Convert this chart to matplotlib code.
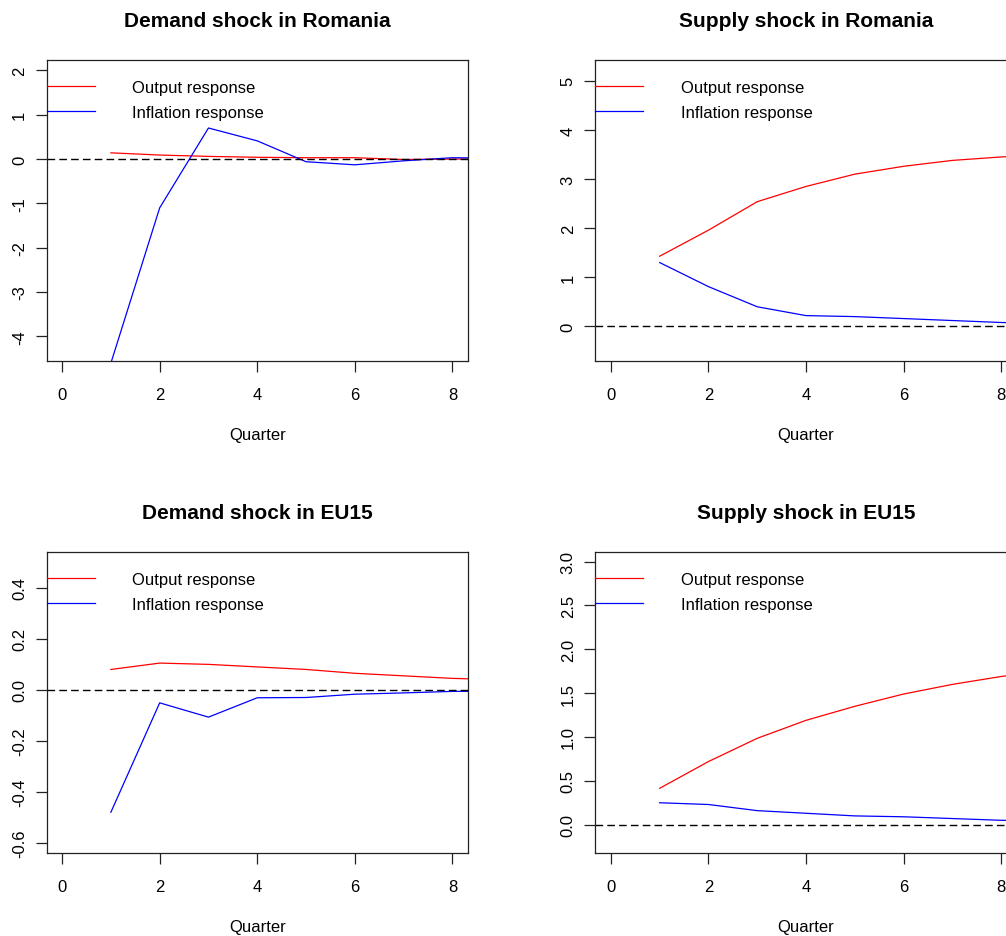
import numpy as np
import matplotlib
matplotlib.use("Agg")
import matplotlib.pyplot as plt

plt.rcParams["font.family"] = ["Liberation Sans", "DejaVu Sans"]
plt.rcParams["axes.unicode_minus"] = False

# Quarters after the shock (data runs past the visible x range, R clips it)
quarters = [1, 2, 3, 4, 5, 6, 7, 8, 9]

# Demand shock in Romania
ro_demand_output = [0.14, 0.09, 0.06, 0.04, 0.03, 0.03, -0.01, 0.0, 0.0]
ro_demand_inflation = [-4.6, -1.1, 0.70, 0.41, -0.06, -0.13, -0.04, 0.03, 0.02]

# Supply shock in Romania
ro_supply_output = [1.43, 1.96, 2.54, 2.85, 3.10, 3.26, 3.38, 3.45, 3.50]
ro_supply_inflation = [1.30, 0.81, 0.40, 0.22, 0.20, 0.16, 0.12, 0.08, 0.06]

# Demand shock in EU15
eu_demand_output = [0.08, 0.105, 0.10, 0.09, 0.08, 0.065, 0.055, 0.045, 0.04]
eu_demand_inflation = [-0.48, -0.051, -0.107, -0.031, -0.03, -0.017, -0.012, -0.006, -0.005]

# Supply shock in EU15
eu_supply_output = [0.415, 0.72, 0.985, 1.19, 1.35, 1.49, 1.60, 1.69, 1.76]
eu_supply_inflation = [0.25, 0.23, 0.16, 0.13, 0.10, 0.09, 0.07, 0.05, 0.045]

titles = ["Demand shock in Romania", "Supply shock in Romania",
          "Demand shock in EU15", "Supply shock in EU15"]
legend_labels = ["Output response", "Inflation response"]

x_ticks = [0, 2, 4, 6, 8]
y_ticks_list = [
    [-4, -3, -2, -1, 0, 1, 2],
    [0, 1, 2, 3, 4, 5],
    [-0.6, -0.4, -0.2, 0.0, 0.2, 0.4],
    [0.0, 0.5, 1.0, 1.5, 2.0, 2.5, 3.0],
]
y_fmt = ["{:.0f}", "{:.0f}", "{:.1f}", "{:.1f}"]

W, H = 1006, 937
fig = plt.figure(figsize=(W / 100, H / 100), dpi=100)


def make_axes(left_px, top_px, bottom_px, width_px=421.5):
    return fig.add_axes([left_px / W, (H - bottom_px) / H,
                         width_px / W, (bottom_px - top_px) / H])


axes = [
    make_axes(46.5, 60.7, 362.3),
    make_axes(595.3, 60.7, 362.3),
    make_axes(46.5, 552.7, 854.0),
    make_axes(595.3, 552.7, 854.0),
]
ylims = [(-4.56, 2.24), (-0.71, 5.43), (-0.64, 0.542), (-0.323, 3.113)]
series = [
    (ro_demand_output, ro_demand_inflation),
    (ro_supply_output, ro_supply_inflation),
    (eu_demand_output, eu_demand_inflation),
    (eu_supply_output, eu_supply_inflation),
]

for i, ax in enumerate(axes):
    out, infl = series[i]
    ax.plot(quarters, out, color="#FF0000", lw=0.9, label=legend_labels[0])
    ax.plot(quarters, infl, color="#0000FF", lw=0.9, label=legend_labels[1])
    ax.axhline(0, color="black", lw=1.0, ls=(0, (5.5, 3)))

    ax.set_xlim(-0.32, 8.32)
    ax.set_ylim(*ylims[i])
    ax.set_xticks(x_ticks)
    ax.set_xticklabels([str(t) for t in x_ticks])
    yt = y_ticks_list[i]
    ax.set_yticks(yt)
    ax.set_yticklabels([y_fmt[i].format(v) for v in yt],
                       rotation=90, va="center")

    ax.tick_params(axis="both", direction="out", length=7.6, width=0.9,
                   labelsize=12, color="#222222")
    ax.tick_params(axis="x", pad=11)
    ax.tick_params(axis="y", pad=6.5)
    for s in ax.spines.values():
        s.set_linewidth(0.9)
        s.set_color("#222222")

    ax.set_title(titles[i], fontsize=15, fontweight="bold", pad=24)
    ax.set_xlabel("Quarter", fontsize=12, va="top")
    ax.xaxis.set_label_coords(0.5, -0.218)

    ax.legend(loc="upper left", bbox_to_anchor=(0, 0.934), frameon=False,
              borderaxespad=0, borderpad=0, handlelength=2.88,
              handletextpad=2.26, labelspacing=0.62, fontsize=12)

fig.savefig("out.png", dpi=100)
